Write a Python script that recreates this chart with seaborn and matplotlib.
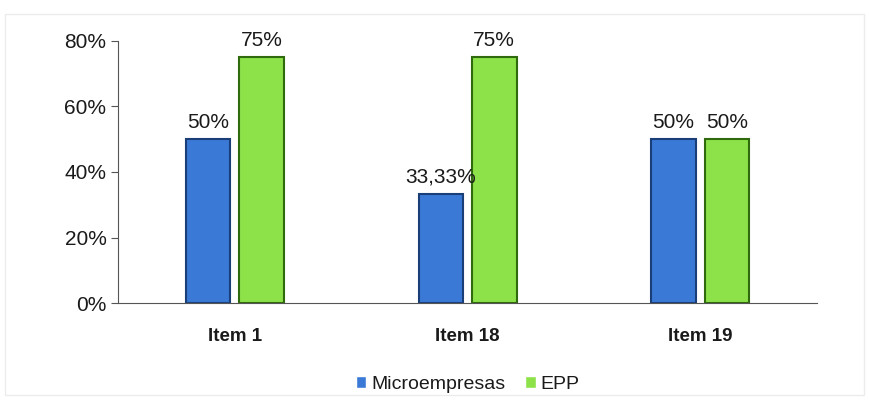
import numpy as np
import pandas as pd
import seaborn as sns
from matplotlib import pyplot as plt
from matplotlib.ticker import FuncFormatter

sns.set_style("white")
plt.rcParams['font.family'] = ['Liberation Sans', 'DejaVu Sans']

items = ['Item 1', 'Item 18', 'Item 19']
micro = [50, 33.33, 50]
epp = [75, 75, 50]
labels_micro = ['50%', '33,33%', '50%']
labels_epp = ['75%', '75%', '50%']

df = pd.DataFrame({'Item': items * 2,
                   'Valor': micro + epp,
                   'Grupo': ['Microempresas'] * 3 + ['EPP'] * 3})

fig = plt.figure(figsize=(8.69, 4.09), dpi=100)
ax = fig.add_axes([0.136, 0.259, 0.804, 0.641])
pal = {'Microempresas': '#3a7ad6', 'EPP': '#8de24a'}
sns.barplot(data=df, x='Item', y='Valor', hue='Grupo', palette=pal, saturation=1,
            width=0.46, gap=0.17, ax=ax, legend=True)

edges = ['#1a3f78'] * 3 + ['#2f6a0c'] * 3
for p, ec in zip(ax.patches[:6], edges):
    p.set_edgecolor(ec)
    p.set_linewidth(1.5)

for cont, labs in zip(ax.containers, [labels_micro, labels_epp]):
    ax.bar_label(cont, labels=labs, padding=5, fontsize=15, color='#1a1a1a')

ax.set_ylim(0, 80)
ax.set_xlim(-0.5, 2.5)
ax.set_yticks(np.arange(0, 81, 20))
ax.yaxis.set_major_formatter(FuncFormatter(lambda v, _: f'{v:.0f}%'))
ax.tick_params(axis='y', labelsize=15, length=5, left=True, color='#555555',
               labelcolor='#1a1a1a')
ax.tick_params(axis='x', labelsize=13.5, length=0, pad=18, labelcolor='#1a1a1a')
for t in ax.get_xticklabels():
    t.set_fontweight('bold')
ax.set_xlabel('')
ax.set_ylabel('')
sns.despine(ax=ax, top=True, right=True)
ax.spines['left'].set_color('#555555')
ax.spines['bottom'].set_color('#555555')

leg = ax.legend(loc='center', bbox_to_anchor=(0.5, -0.31), ncol=2, frameon=False,
                fontsize=14, handlelength=0.55, handleheight=0.55, handletextpad=0.25,
                columnspacing=1.0)
for t in leg.get_texts():
    t.set_color('#1a1a1a')

fig.patches.append(plt.Rectangle((0.006, 0.035), 0.988, 0.93, transform=fig.transFigure,
                                 fill=False, edgecolor='#ececec', linewidth=1))
plt.savefig('out.png', dpi=100)
